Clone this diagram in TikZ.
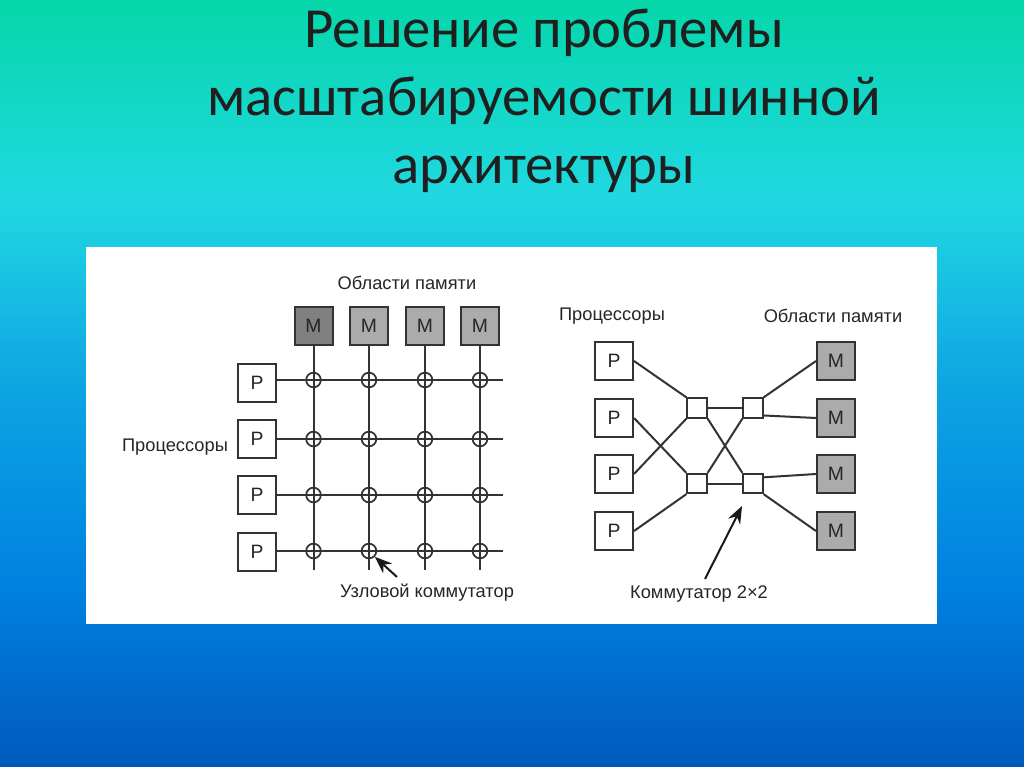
\documentclass[tikz,border=0pt]{standalone}
\usepackage{fontspec}
\setmainfont{Carlito}
\setsansfont{Liberation Sans}
\usetikzlibrary{positioning,arrows.meta,calc}
\definecolor{bgtop}{RGB}{5,215,170}
\definecolor{bgcyan}{RGB}{32,216,226}
\definecolor{bgmid}{RGB}{14,165,226}
\definecolor{bgblue}{RGB}{0,130,225}
\definecolor{bgbot}{RGB}{0,90,188}
\pgfdeclareverticalshading{slidebg}{100bp}{
  color(0bp)=(bgbot);
  color(25bp)=(bgbot);
  color(37bp)=(bgblue);
  color(50bp)=(bgmid);
  color(62bp)=(bgcyan);
  color(75bp)=(bgtop);
  color(100bp)=(bgtop)}
\tikzset{
  ttl/.style={font=\fontsize{42.5}{51}\selectfont,text=black!88,align=center},
  lbl/.style={font=\sffamily\fontsize{13.7}{16}\selectfont,text=black!85},
  wire/.style={line width=1.5pt,black!80},
  pbox/.style={rectangle,draw=black!80,fill=white,line width=1.5pt,minimum size=28.5pt,inner sep=0pt,font=\sffamily\fontsize{14.5}{16}\selectfont,text=black!85},
  mbox/.style={pbox,fill=black!33},
  mdark/.style={pbox,fill=black!50},
  sw/.style={rectangle,draw=black!80,fill=white,line width=1.5pt,minimum size=14.5pt,inner sep=0pt},
  xpt/.style={circle,draw=black!80,line width=1.3pt,minimum size=11pt,inner sep=0pt},
  ptr/.style={-{Stealth[length=13pt,width=10pt]},line width=1.5pt,black!90},
}
\begin{document}
\begin{tikzpicture}[x=0.75pt,y=-0.75pt]
  \useasboundingbox (0,0) rectangle (1024,767);
  \shade[shading=slidebg] (0,0) rectangle (1024,767);
  \node[ttl] (title) at (544,101) {Решение проблемы\\масштабируемости шинной\\архитектуры};
  \fill[white] (86,247) rectangle (937,624);
  % crossbar
  \node[lbl] (lmem) at (407,283) {Области памяти};
  \node[lbl] (lproc) at (175,447) {Процессоры};
  \node[lbl] (lnode) at (427,593) {Узловой коммутатор};
  \foreach \i/\x/\st in {1/313.5/mdark,2/369/mbox,3/425/mbox,4/480/mbox}{
    \node[\st] (mm\i) at (\x,326) {M};
    \coordinate (mend\i) at (\x,570);
    \draw[wire] (mm\i) -- (mend\i);
  }
  \foreach \j/\y/\w in {1/383/380,2/439/439,3/495/495,4/552/551}{
    \node[pbox] (pp\j) at (257,\y) {P};
    \coordinate (pend\j) at (503,\w);
    \draw[wire] (pp\j.east |- pend\j) -- (pend\j);
  }
  \foreach \i in {1,...,4}{
    \foreach \j in {1,...,4}{
      \node[xpt] (xp\i\j) at (mm\i |- pend\j) {};
    }
  }
  \coordinate (nodetail) at (397,577);
  \draw[ptr] (nodetail) -- (xp24.-45);
  % 2x2 network
  \node[lbl] (rproc) at (612,316) {Процессоры};
  \node[lbl] (rmem) at (833,316) {Области памяти};
  \node[lbl] (rsw) at (699,594) {Коммутатор 2×2};
  \foreach \j/\y in {1/361,2/418,3/474,4/531}{
    \node[pbox] (rp\j) at (614,\y) {P};
    \node[mbox] (rm\j) at (836,\y) {M};
  }
  \node[sw] (s11) at (697,408) {};
  \node[sw] (s12) at (753,408) {};
  \node[sw] (s21) at (697,483.5) {};
  \node[sw] (s22) at (753,483.5) {};
  \draw[wire] (rp1.east) -- (s11.north west);
  \draw[wire] (rp2.east) -- (s21.north west);
  \draw[wire] (rp3.east) -- (s11.south west);
  \draw[wire] (rp4.east) -- (s21.south west);
  \draw[wire] (s11.east) -- (s12.west);
  \draw[wire] (s21.east) -- (s22.west);
  \draw[wire] (s11.south east) -- (s22.north west);
  \draw[wire] (s21.north east) -- (s12.south west);
  \draw[wire] (s12.north east) -- (rm1.west);
  \draw[wire] (s12.-35) -- (rm2.west);
  \draw[wire] (s22.30) -- (rm3.west);
  \draw[wire] (s22.south east) -- (rm4.west);
  \coordinate (swtail) at (705,579);
  \coordinate (swtip) at (742,506);
  \draw[ptr] (swtail) -- (swtip);
\end{tikzpicture}
\end{document}
